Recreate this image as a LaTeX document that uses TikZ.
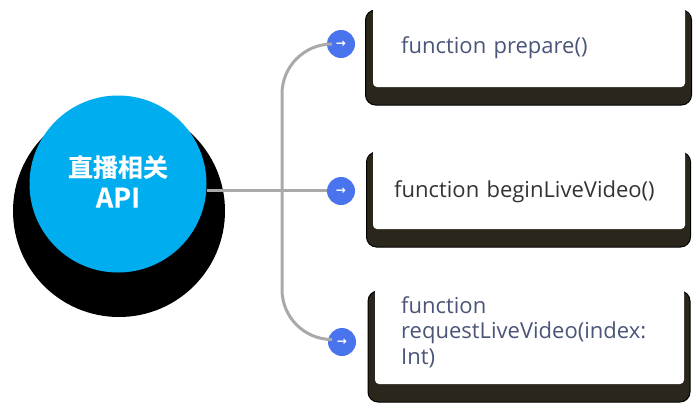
\documentclass[tikz,border=0pt]{standalone}
\usepackage{fontspec}
\setmainfont{Open Sans}
\newfontfamily\cjkbold[FakeBold=0.5]{Noto Sans CJK SC Bold}
\newfontfamily\dejavu{DejaVu Sans}
\definecolor{hubblue}{HTML}{00ADEF}
\definecolor{dotblue}{HTML}{4A74EE}
\definecolor{wiregray}{HTML}{A9A9A9}
\definecolor{slatetext}{HTML}{4A5578}
\definecolor{darktext}{HTML}{333333}
\definecolor{shadowdark}{HTML}{2A261C}
\tikzset{
  hubnode/.style={circle,fill=hubblue,text=white,minimum size=177pt,inner sep=0pt,align=center,
    text depth=5pt,font=\cjkbold\fontsize{25}{31}\selectfont},
  hubshadow/.style={circle,fill=black,minimum size=212pt,inner sep=0pt},
  dotnode/.style={circle,fill=dotblue,text=white,minimum size=28pt,inner sep=0pt,
    font=\dejavu\bfseries\fontsize{12}{12}\selectfont},
  cardshadow/.style={rectangle,rounded corners=10pt,fill=shadowdark,draw=black,line width=1pt,inner sep=0pt},
  cardnode/.style={rectangle,rounded corners=4pt,fill=white,inner sep=0pt},
  cardtext/.style={anchor=west,inner sep=0pt,align=left,text width=275pt,
    font=\fontsize{22}{25.5}\selectfont},
  wire/.style={draw=wiregray,line width=3pt},
}
\begin{document}
\begin{tikzpicture}[x=1pt,y=-1pt]
  \useasboundingbox (0,0) rectangle (700,410);
  \node[hubshadow] (hubback) at (119,211) {};
  \node[hubnode] (api) at (118,184) {直播相关\\{\fontsize{27}{31}\selectfont API}};
  % cards
  \node[cardshadow,minimum width=326pt,minimum height=95pt] (backa) at (528.5,57.5) {};
  \node[cardnode,minimum width=312pt,minimum height=87pt] (carda) at (529,43.5) {};
  \node[cardshadow,minimum width=324pt,minimum height=95pt] (backb) at (528.5,199.5) {};
  \node[cardnode,minimum width=312pt,minimum height=87pt] (cardb) at (529,185.5) {};
  \node[cardshadow,minimum width=322pt,minimum height=111pt] (backc) at (529,346.5) {};
  \node[cardnode,minimum width=309pt,minimum height=103pt] (cardc) at (529.5,332.5) {};
  \node[cardtext,text=slatetext] (texta) at (401,48) {function prepare()};
  \node[cardtext,text=darktext] (textb) at (394,192) {function beginLiveVideo()};
  \node[cardtext,text=slatetext] (textc) at (401,332) {function\\requestLiveVideo(index:\\Int)};
  % wires
  \node[dotnode] (dota) at (341,44) {→};
  \node[dotnode] (dotb) at (341,191) {→};
  \node[dotnode] (dotc) at (342,342) {→};
  \coordinate (hubjoin) at (282,190);
  \draw[wire] (api.east |- hubjoin) -- (dotb.west |- hubjoin);
  \draw[wire,rounded corners=50pt] (hubjoin) |- (dota.west);
  \draw[wire,rounded corners=50pt] (hubjoin) |- (dotc.170);
\end{tikzpicture}
\end{document}
